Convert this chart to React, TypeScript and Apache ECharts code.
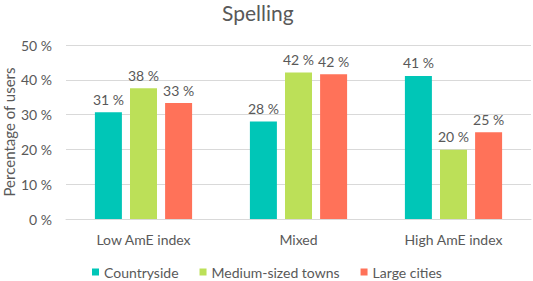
import React, { useEffect, useRef } from "react";
import * as echarts from "echarts";

const categories = ["Low AmE index", "Mixed", "High AmE index"];
const countryside = [30.7, 28.0, 41.1];
const mediumTowns = [37.6, 42.1, 19.9];
const largeCities = [33.3, 41.6, 24.9];
const seriesNames = ["Countryside", "Medium-sized towns", "Large cities"];
const colors = ["#00C6B7", "#BCE058", "#FF7259"];

const FONT = "Lato, 'Open Sans', sans-serif";
const TXT = "#595959";

export default function App() {
  const ref = useRef<HTMLDivElement>(null);
  useEffect(() => {
    if (!ref.current) return;
    const chart = echarts.init(ref.current, undefined, { renderer: "svg" });
    const mk = (name: string, data: number[], color: string) => ({
      name,
      type: "bar",
      data,
      barWidth: 27,
      barGap: "30%",
      itemStyle: { color },
      label: {
        show: true,
        position: "top",
        distance: 6,
        color: TXT,
        fontFamily: FONT,
        fontSize: 14,
        formatter: (p: any) => `${Math.round(p.value)} %`,
      },
    });
    chart.setOption({
      animation: false,
      textStyle: { fontFamily: FONT },
      title: {
        text: "Spelling",
        left: 222,
        top: 2,
        padding: 0,
        textStyle: { color: TXT, fontFamily: FONT, fontSize: 21, fontWeight: "normal" },
      },
      legend: {
        left: 87,
        top: 260,
        itemWidth: 7,
        itemHeight: 7,
        itemGap: 21,
        icon: "rect",
        textStyle: { color: TXT, fontFamily: FONT, fontSize: 14 },
        data: seriesNames,
      },
      grid: { left: 66, right: 2, top: 45, bottom: 62, containLabel: false, outerBoundsMode: "none" },
      xAxis: {
        type: "category",
        data: categories,
        axisTick: { show: false },
        axisLine: { lineStyle: { color: "#D9D9D9" } },
        axisLabel: { color: TXT, fontFamily: FONT, fontSize: 14, margin: 13 },
      },
      yAxis: {
        type: "value",
        min: 0,
        max: 50,
        interval: 10,
        name: "Percentage of users",
        nameLocation: "middle",
        nameGap: 50,
        nameMoveOverlap: false,
        nameTextStyle: { color: TXT, fontFamily: FONT, fontSize: 15 },
        axisLabel: { color: TXT, fontFamily: FONT, fontSize: 14, margin: 14, formatter: "{value} %" },
        splitLine: { lineStyle: { color: "#D9D9D9" } },
      },
      series: [
        mk(seriesNames[0], countryside, colors[0]),
        mk(seriesNames[1], mediumTowns, colors[1]),
        mk(seriesNames[2], largeCities, colors[2]),
      ],
    });
    return () => chart.dispose();
  }, []);
  return <div ref={ref} style={{ width: 533, height: 281, position: "absolute", left: 0, top: 0 }} />;
}
